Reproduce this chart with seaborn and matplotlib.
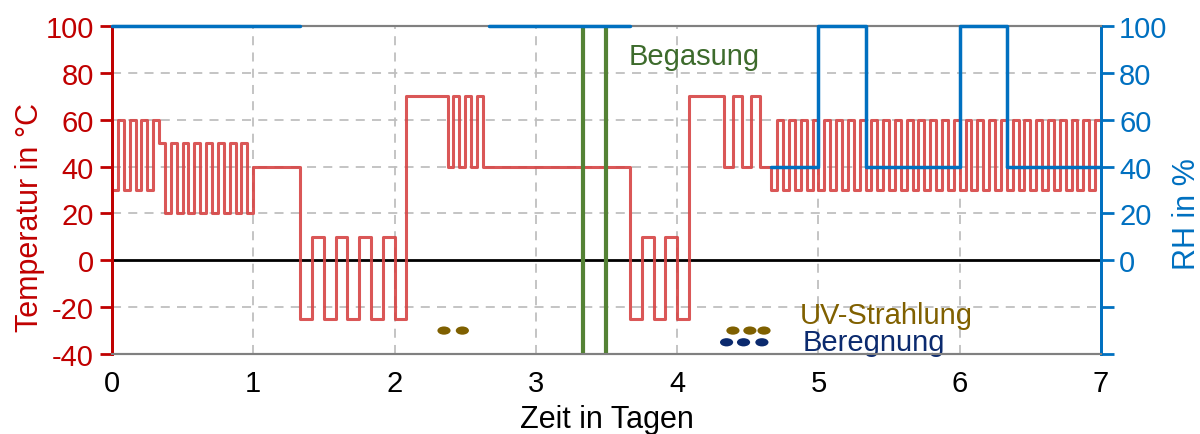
import numpy as np
import pandas as pd
import seaborn as sns
import matplotlib.pyplot as plt
from matplotlib.path import Path
from matplotlib.transforms import Affine2D

# Temperaturprofil: Beginn jeder Stufe in Stunden und Temperatur in °C (steps-post)
temp_hours = [
    0, 1, 2, 3, 4, 5, 6, 7,
    8,
    9, 10, 11, 12, 13, 14, 15, 16, 17, 18, 19, 20, 21, 22, 23,
    24,
    32, 34, 36, 38, 40, 42, 44, 46, 48,
    50, 57, 58, 59, 60, 61, 62, 63,
    88, 90, 92, 94, 96,
    98, 104, 105.5, 107, 108.5, 110,
    112, 113, 114, 115, 116, 117, 118, 119, 120, 121, 122, 123, 124, 125,
    126, 127, 128, 129, 130, 131, 132, 133, 134, 135, 136, 137, 138, 139,
    140, 141, 142, 143, 144, 145, 146, 147, 148, 149, 150, 151, 152, 153,
    154, 155, 156, 157, 158, 159, 160, 161, 162, 163, 164, 165, 166, 167,
    168,
]
temp_values = [
    30, 60, 30, 60, 30, 60, 30, 60,
    50,
    20, 50, 20, 50, 20, 50, 20, 50, 20, 50, 20, 50, 20, 50, 20,
    40,
    -25, 10, -25, 10, -25, 10, -25, 10, -25,
    70, 40, 70, 40, 70, 40, 70, 40,
    -25, 10, -25, 10, -25,
    70, 40, 70, 40, 70, 40,
    30, 60, 30, 60, 30, 60, 30, 60, 30, 60, 30, 60, 30, 60,
    30, 60, 30, 60, 30, 60, 30, 60, 30, 60, 30, 60, 30, 60,
    30, 60, 30, 60, 30, 60, 30, 60, 30, 60, 30, 60, 30, 60,
    30, 60, 30, 60, 30, 60, 30, 60, 30, 60, 30, 60, 30, 60,
    60,
]

# Relative Feuchte: Abschnitte (Stunden, RH in %)
rh_hours = [0, 32, 64, 88, 112, 120, 128, 144, 152, 168]
rh_values = [100, 100, 100, 100, 40, 100, 40, 100, 40, 40]
rh_segment = [1, 1, 2, 2, 3, 3, 3, 3, 3, 3]

# Begasung (Tage)
gas_days = [3.333, 3.5]

# UV-Strahlung und Beregnung (Tage)
uv_days = [2.35, 2.48, 4.395, 4.515, 4.615]
uv_level = [-30, -30, -30, -30, -30]
rain_days = [4.35, 4.47, 4.6]
rain_level = [-35, -35, -35]

x_ticks = [0, 1, 2, 3, 4, 5, 6, 7]
y_ticks = [-40, -20, 0, 20, 40, 60, 80, 100]
rh_ticks = [0, 20, 40, 60, 80, 100]

RED = "#c00000"
BLUE = "#0070c0"
FS = 21

temp_df = pd.DataFrame({"tag": np.array(temp_hours) / 24, "temp": temp_values})
rh_df = pd.DataFrame({"tag": np.array(rh_hours) / 24, "rh": rh_values, "seg": rh_segment})

sns.set_style("white")
plt.rcParams["font.family"] = ["Liberation Sans", "DejaVu Sans"]
plt.rcParams["axes.unicode_minus"] = False
plt.rcParams["text.color"] = "black"
plt.rcParams["xtick.color"] = "black"

fig = plt.figure(figsize=(12, 4.35), dpi=100)
ax = fig.add_axes([0.0933, 0.1839, 0.8242, 0.754])

for t in x_ticks[1:-1]:
    ax.axvline(t, color="#bfbfbf", lw=1.3, ls=(0, (5, 4)), zorder=0)
for v in [-20, 20, 40, 60, 80]:
    ax.axhline(v, color="#bfbfbf", lw=1.3, ls=(0, (5, 4)), zorder=0)
ax.axhline(0, color="black", lw=2, zorder=1)

sns.lineplot(data=temp_df, x="tag", y="temp", drawstyle="steps-post",
             estimator=None, sort=False, color="#d64545", lw=2.2, alpha=0.9, ax=ax, zorder=3)

for t in gas_days:
    ax.axvline(t, color="#548235", lw=3, zorder=4)

ellipse = Path.unit_circle().transformed(Affine2D().scale(1.6, 1.0))
sns.scatterplot(x=uv_days, y=uv_level, marker=ellipse, s=90, color="#7f6000",
                edgecolor="none", ax=ax, zorder=5)
sns.scatterplot(x=rain_days, y=rain_level, marker=ellipse, s=90, color="#0b2a6e",
                edgecolor="none", ax=ax, zorder=5)

ax.text(3.66, 87, "Begasung", color="#3d6b2c", fontsize=FS, va="center")
ax.text(4.87, -23.5, "UV-Strahlung", color="#806000", fontsize=FS, va="center")
ax.text(4.89, -35, "Beregnung", color="#0b2a6e", fontsize=FS, va="center")

ax.set_xlim(0, 7)
ax.set_ylim(-40, 100)
ax.set_xticks(x_ticks)
ax.set_yticks(y_ticks)
ax.tick_params(axis="x", length=0, labelsize=FS, labelcolor="black", pad=11)
ax.tick_params(axis="y", length=9, width=2, color=RED, labelcolor=RED, labelsize=FS, pad=4)
ax.set_xlabel("Zeit in Tagen", fontsize=22, color="black", labelpad=5)
ax.set_ylabel("Temperatur in °C", color=RED, fontsize=22)
ax.yaxis.set_label_coords(-0.068, 0.42)

ax2 = ax.twinx()
sns.lineplot(data=rh_df, x="tag", y="rh", units="seg", drawstyle="steps-post",
             estimator=None, sort=False, color=BLUE, lw=2.5, ax=ax2, zorder=3)
for ln in ax2.get_lines():
    ln.set_clip_on(False)
ax2.set_ylim(-40, 100)
ax2.set_yticks(y_ticks)
ax2.set_yticklabels([str(v) if v in rh_ticks else "" for v in y_ticks])
ax2.tick_params(axis="y", length=9, width=2, color=BLUE, labelcolor=BLUE, labelsize=FS, pad=4)
ax2.set_ylabel("RH in %", color=BLUE, fontsize=22)
ax2.yaxis.set_label_coords(1.072, 0.43)
ax2.set_xlabel("")

for a in (ax, ax2):
    a.spines["top"].set_color("#808080")
    a.spines["bottom"].set_color("#808080")
    a.spines["top"].set_linewidth(1.5)
    a.spines["bottom"].set_linewidth(1.5)
    a.spines["left"].set_color(RED)
    a.spines["left"].set_linewidth(2)
    a.spines["right"].set_color(BLUE)
    a.spines["right"].set_linewidth(2)

fig.savefig("out.png", dpi=100)
